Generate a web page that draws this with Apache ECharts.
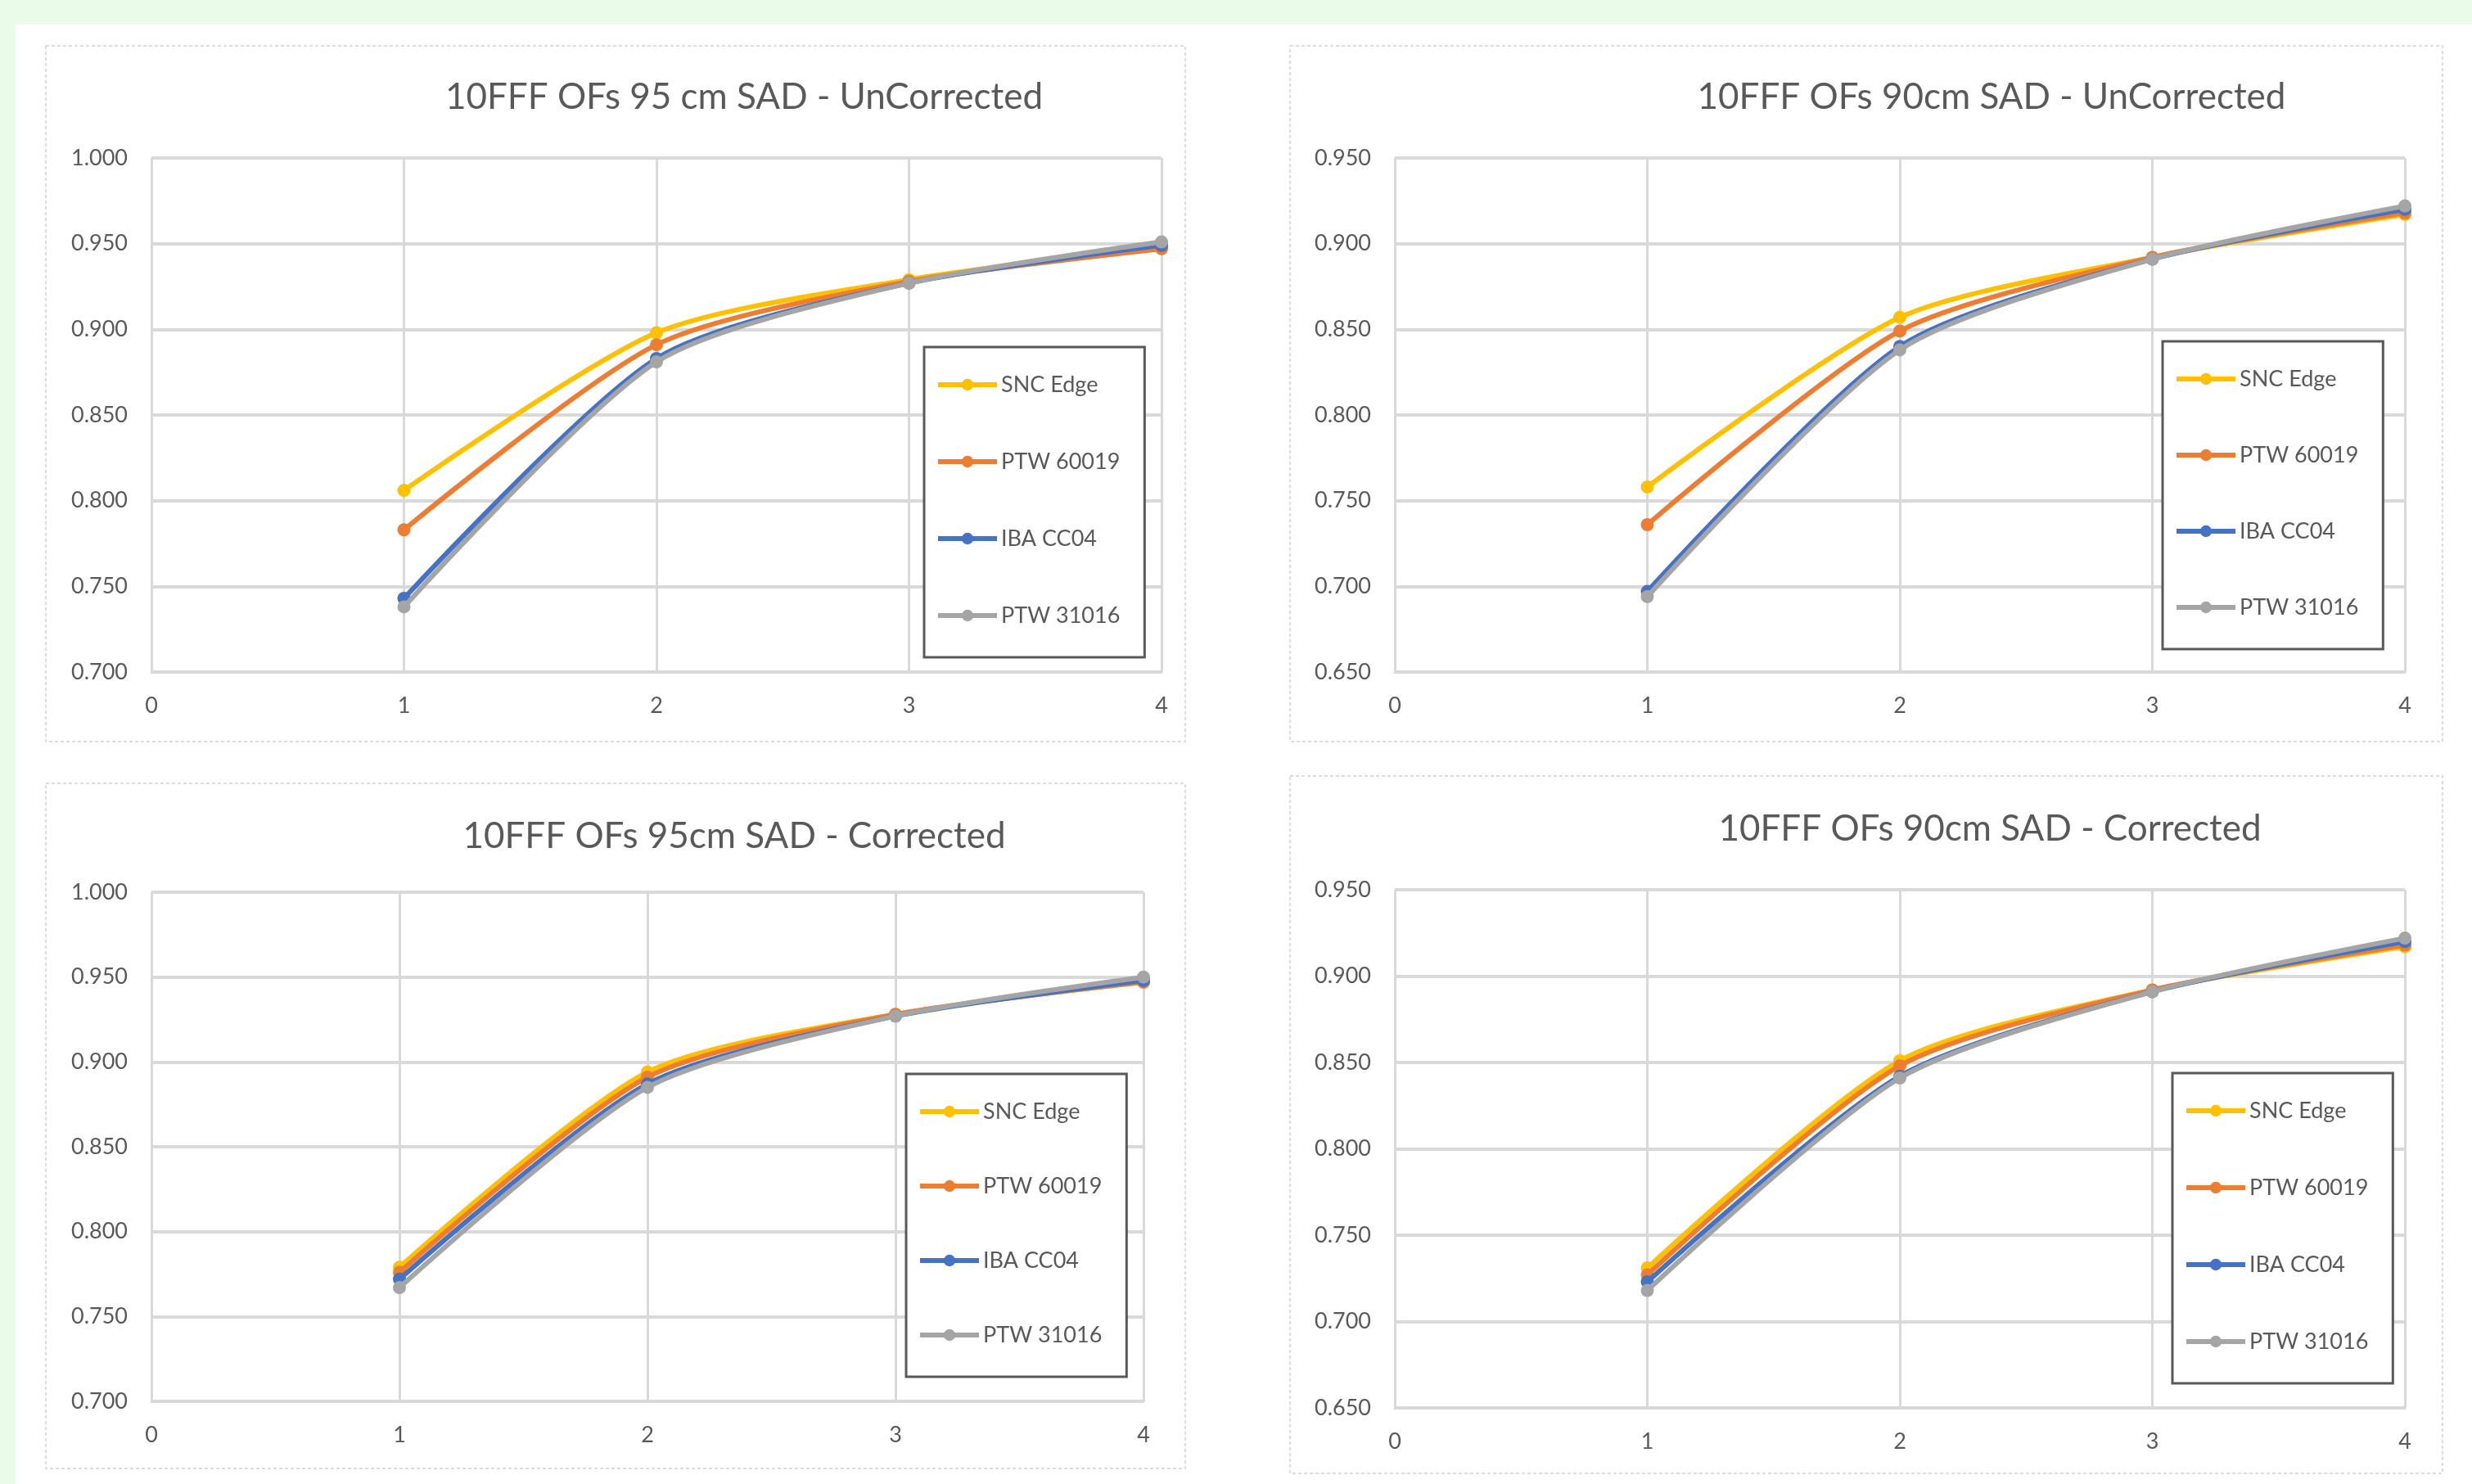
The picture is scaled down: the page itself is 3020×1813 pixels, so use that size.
<!DOCTYPE html>
<html>
<head>
<meta charset="utf-8">
<script src="https://cdn.jsdelivr.net/npm/echarts@6/dist/echarts.min.js"></script>
<style>
html,body{margin:0;padding:0;background:#ffffff;}
#c{width:3020px;height:1813px;}
</style>
</head>
<body>
<div id="c"></div>
<script>
// ---- data ----
const xValues = [1, 2, 3, 4];
const xTicks = [0, 1, 2, 3, 4];
const seriesNames = ['SNC Edge', 'PTW 60019', 'IBA CC04', 'PTW 31016'];
const seriesColors = ['#FFC000', '#ED7D31', '#4472C4', '#A5A5A5'];

const titles = [
  '10FFF OFs 95 cm SAD - UnCorrected',
  '10FFF OFs 90cm SAD - UnCorrected',
  '10FFF OFs 95cm SAD - Corrected',
  '10FFF OFs 90cm SAD - Corrected'
];

// panel 1: 95 cm uncorrected
const p1_snc   = [0.806, 0.898, 0.929, 0.948];
const p1_60019 = [0.783, 0.891, 0.928, 0.947];
const p1_cc04  = [0.743, 0.883, 0.927, 0.949];
const p1_31016 = [0.738, 0.881, 0.927, 0.951];
// panel 2: 90 cm uncorrected
const p2_snc   = [0.758, 0.857, 0.892, 0.917];
const p2_60019 = [0.736, 0.849, 0.892, 0.918];
const p2_cc04  = [0.697, 0.840, 0.891, 0.920];
const p2_31016 = [0.694, 0.838, 0.891, 0.922];
// panel 3: 95 cm corrected
const p3_snc   = [0.779, 0.894, 0.928, 0.947];
const p3_60019 = [0.776, 0.891, 0.928, 0.947];
const p3_cc04  = [0.772, 0.887, 0.927, 0.948];
const p3_31016 = [0.767, 0.885, 0.927, 0.950];
// panel 4: 90 cm corrected
const p4_snc   = [0.731, 0.851, 0.892, 0.917];
const p4_60019 = [0.727, 0.848, 0.892, 0.918];
const p4_cc04  = [0.723, 0.842, 0.891, 0.920];
const p4_31016 = [0.718, 0.841, 0.891, 0.922];

const yMins = [0.70, 0.65, 0.70, 0.65];
const yMaxs = [1.00, 0.95, 1.00, 0.95];
const yInterval = 0.05;

// ---- layout ----
const panelData = [
  [p1_snc, p1_60019, p1_cc04, p1_31016],
  [p2_snc, p2_60019, p2_cc04, p2_31016],
  [p3_snc, p3_60019, p3_cc04, p3_31016],
  [p4_snc, p4_60019, p4_cc04, p4_31016]
];
const cards = [
  {x: 56, y: 56, w: 1392, h: 850},
  {x: 1576, y: 56, w: 1408, h: 850},
  {x: 56, y: 957, w: 1392, h: 837},
  {x: 1576, y: 948, w: 1408, h: 852}
];
const grids = [
  {left: 185, top: 193, width: 1234, height: 628},
  {left: 1704, top: 193, width: 1234, height: 628},
  {left: 185, top: 1090, width: 1212, height: 622},
  {left: 1704, top: 1087, width: 1234, height: 633}
];
const titlePos = [
  {x: 904, y: 114}, {x: 2428, y: 114}, {x: 892, y: 1017}, {x: 2426, y: 1008}
];
const legendPos = [
  {left: 1129, top: 424, gap: 64},
  {left: 2642, top: 417, gap: 63},
  {left: 1107, top: 1312, gap: 61},
  {left: 2654, top: 1311, gap: 64}
];

const FONT = 'Lato, "Liberation Sans", sans-serif';
const TXT = '#595959';

const option = {
  backgroundColor: '#ffffff',
  animation: false,
  textStyle: {fontFamily: FONT},
  graphic: [
    {type: 'rect', z: -10, shape: {x: 0, y: 0, width: 3020, height: 30}, style: {fill: '#eafbea'}, silent: true},
    {type: 'rect', z: -10, shape: {x: 0, y: 0, width: 19, height: 1813}, style: {fill: '#eafbea'}, silent: true}
  ].concat(cards.map(c => ({
    type: 'rect', z: -5,
    shape: {x: c.x, y: c.y, width: c.w, height: c.h},
    style: {fill: '#ffffff', stroke: '#dcdcdc', lineWidth: 2, lineDash: [4, 3]},
    silent: true
  }))),
  title: titles.map((t, i) => ({
    text: t,
    left: titlePos[i].x, top: titlePos[i].y,
    textAlign: 'center', textVerticalAlign: 'middle',
    textStyle: {fontFamily: FONT, fontSize: 44, fontWeight: 'normal', color: TXT}
  })),
  legend: legendPos.map((p, i) => ({
    data: seriesNames,
    orient: 'vertical',
    left: p.left, top: p.top,
    itemWidth: 72, itemHeight: 18,
    itemGap: p.gap,
    padding: [31, 30, 36, 14],
    borderColor: '#595959', borderWidth: 3,
    backgroundColor: '#ffffff',
    selectedMode: false,
    lineStyle: {width: 6},
    textStyle: {fontFamily: FONT, fontSize: 27, color: TXT, lineHeight: 30}
  })),
  grid: grids.map(g => Object.assign({containLabel: false}, g)),
  xAxis: grids.map((g, i) => ({
    type: 'value', gridIndex: i,
    min: xTicks[0], max: xTicks[xTicks.length - 1], interval: 1,
    axisLine: {show: true, lineStyle: {color: '#d9d9d9', width: 3}},
    axisTick: {show: false},
    splitLine: {show: true, lineStyle: {color: '#d9d9d9', width: 3}},
    axisLabel: {margin: 28, fontSize: 27, color: TXT, fontFamily: FONT, formatter: v => String(v)}
  })),
  yAxis: grids.map((g, i) => ({
    type: 'value', gridIndex: i,
    min: yMins[i], max: yMaxs[i], interval: yInterval,
    axisLine: {show: false},
    axisTick: {show: false},
    splitLine: {show: true, lineStyle: {color: '#d9d9d9', width: 4}},
    axisLabel: {margin: 29, fontSize: 27, color: TXT, fontFamily: FONT, formatter: v => v.toFixed(3)}
  })),
  series: []
};

panelData.forEach((panel, pi) => {
  panel.forEach((vals, si) => {
    option.series.push({
      type: 'line',
      name: seriesNames[si],
      xAxisIndex: pi, yAxisIndex: pi,
      data: xValues.map((x, k) => [x, vals[k]]),
      smooth: 0.25,
      symbol: 'circle', symbolSize: 16,
      lineStyle: {color: seriesColors[si], width: 6},
      itemStyle: {color: seriesColors[si]},
      z: 2 + si
    });
  });
});

const chart = echarts.init(document.getElementById('c'), null, {renderer: 'canvas'});
chart.setOption(option);
</script>
</body>
</html>
